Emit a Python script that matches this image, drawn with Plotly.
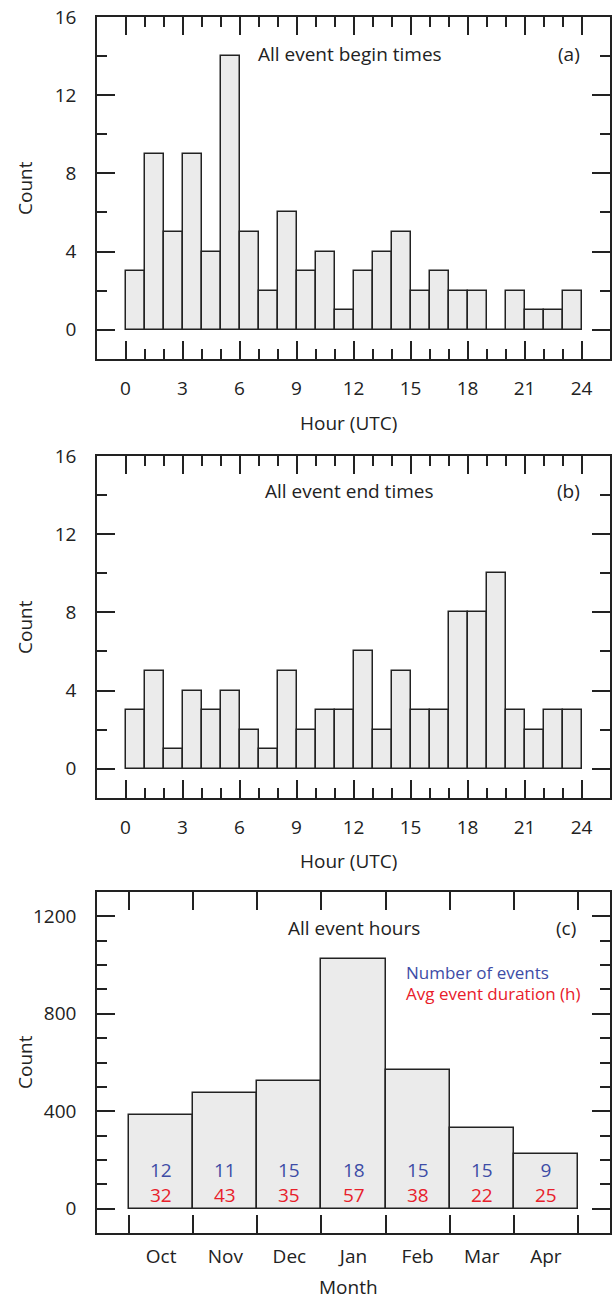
import plotly.graph_objects as go

# ---- data ----
hours = list(range(24))
begin_counts = [3, 9, 5, 9, 4, 14, 5, 2, 6, 3, 4, 1, 3, 4, 5, 2, 3, 2, 2, 0, 2, 1, 1, 2]
end_counts = [3, 5, 1, 4, 3, 4, 2, 1, 5, 2, 3, 3, 6, 2, 5, 3, 3, 8, 8, 10, 3, 2, 3, 3]
months = ["Oct", "Nov", "Dec", "Jan", "Feb", "Mar", "Apr"]
n_events = [12, 11, 15, 18, 15, 15, 9]
avg_duration = [32, 43, 35, 57, 38, 22, 25]
event_hours = [384, 473, 525, 1026, 570, 330, 225]
hour_ticks = [0, 3, 6, 9, 12, 15, 18, 21, 24]
count_ticks = [0, 4, 8, 12, 16]
hour_count_ticks = [0, 400, 800, 1200]

FONT = "Open Sans"
LINE = "#222222"
FILL = "#ebebeb"
BLUE = "#3d4ca6"
RED = "#e8202a"
W, H = 612, 1302

fig = go.Figure()
fig.add_trace(go.Bar(x=[h + 0.5 for h in hours], y=begin_counts, width=1,
                     marker=dict(color=FILL, line=dict(color=LINE, width=1.5)),
                     xaxis="x", yaxis="y", showlegend=False))
fig.add_trace(go.Bar(x=[h + 0.5 for h in hours], y=end_counts, width=1,
                     marker=dict(color=FILL, line=dict(color=LINE, width=1.5)),
                     xaxis="x2", yaxis="y2", showlegend=False))
fig.add_trace(go.Bar(x=list(range(len(months))), y=event_hours, width=1,
                     marker=dict(color=FILL, line=dict(color=LINE, width=1.5)),
                     xaxis="x3", yaxis="y3", showlegend=False))

x0, x1 = 97 / W, 610 / W
def ydom(top, bot):
    return [1 - bot / H, 1 - top / H]

common = dict(showline=True, linecolor=LINE, linewidth=1.5, mirror="ticks",
              ticks="inside", ticklen=18, tickwidth=1.5, tickcolor=LINE,
              showgrid=False, zeroline=False, automargin=False,
              tickfont=dict(family=FONT, size=19, color=LINE))
minor_common = dict(ticks="inside", ticklen=10, tickwidth=1.5, tickcolor=LINE, showgrid=False)

def hour_xaxis(anchor):
    return dict(common, domain=[x0, x1], anchor=anchor, range=[-1.5, 25.5],
                tickmode="array", tickvals=hour_ticks, ticklabelstandoff=11,
                minor=dict(minor_common, tickmode="array", tickvals=list(range(25))))

def count_yaxis(anchor, dom):
    return dict(common, domain=dom, anchor=anchor, range=[-1.5, 16],
                tickmode="array", tickvals=count_ticks, ticklabelstandoff=15,
                minor=dict(minor_common, tickmode="array", tickvals=[2, 6, 10, 14]))

layout = dict(
    width=W, height=H, margin=dict(l=0, r=0, t=0, b=0),
    paper_bgcolor="white", plot_bgcolor="white", bargap=0,
    xaxis=hour_xaxis("y"),
    yaxis=count_yaxis("x", ydom(17, 359)),
    xaxis2=hour_xaxis("y2"),
    yaxis2=count_yaxis("x2", ydom(456, 798)),
    xaxis3=dict(common, domain=[x0, x1], anchor="y3", range=[-1, 7],
                tickmode="array", tickvals=list(range(len(months))), ticktext=months,
                ticklen=0, ticklabelstandoff=5,
                minor=dict(minor_common, ticklen=18, tickmode="array",
                           tickvals=[i - 0.5 for i in range(len(months) + 1)])),
    yaxis3=dict(common, domain=ydom(892, 1233), anchor="x3", range=[-100, 1300],
                tickmode="array", tickvals=hour_count_ticks, ticklabelstandoff=15,
                minor=dict(minor_common, tickmode="array",
                           tickvals=[v for v in range(100, 1300, 100) if v % 400 != 0])),
)
fig.update_layout(**layout)

ann = []
def txt(text, x, y, xref, yref, size=19, color=LINE, xanchor="center", angle=0):
    ann.append(dict(text=text, x=x, y=y, xref=xref, yref=yref, showarrow=False,
                    xanchor=xanchor, yanchor="middle", textangle=angle,
                    font=dict(family=FONT, size=size, color=color)))

# panel labels
txt("All event begin times", 11.8, 14.1, "x", "y")
txt("(a)", 24, 14.1, "x", "y", xanchor="right")
txt("All event end times", 11.8, 14.2, "x2", "y2")
txt("(b)", 24, 14.2, "x2", "y2", xanchor="right")
txt("All event hours", 3.0, 1151, "x3", "y3")
txt("(c)", 6.5, 1151, "x3", "y3", xanchor="right")
txt("Number of events", 3.78, 970, "x3", "y3", size=17, color=BLUE, xanchor="left")
txt("Avg event duration (h)", 3.78, 884, "x3", "y3", size=17, color=RED, xanchor="left")
for i in range(len(months)):
    two_lines = (f"<span style='color:{BLUE}'>{n_events[i]}</span><br>"
                 f"<span style='color:{RED}'>{avg_duration[i]}</span>")
    txt(two_lines, i, 107, "x3", "y3", size=19)

# axis titles
txt("Count", 25 / W, 1 - 188 / H, "paper", "paper", angle=-90)
txt("Count", 25 / W, 1 - 627 / H, "paper", "paper", angle=-90)
txt("Count", 25 / W, 1 - 1062 / H, "paper", "paper", angle=-90)
txt("Hour (UTC)", 348 / W, 1 - 423 / H, "paper", "paper")
txt("Hour (UTC)", 348 / W, 1 - 861 / H, "paper", "paper")
txt("Month", 348 / W, 1 - 1287 / H, "paper", "paper")

fig.update_layout(annotations=ann)
fig.write_html("out.html", config={"displayModeBar": False},
               post_script="document.body.style.margin='0px';document.body.style.overflow='hidden';")
